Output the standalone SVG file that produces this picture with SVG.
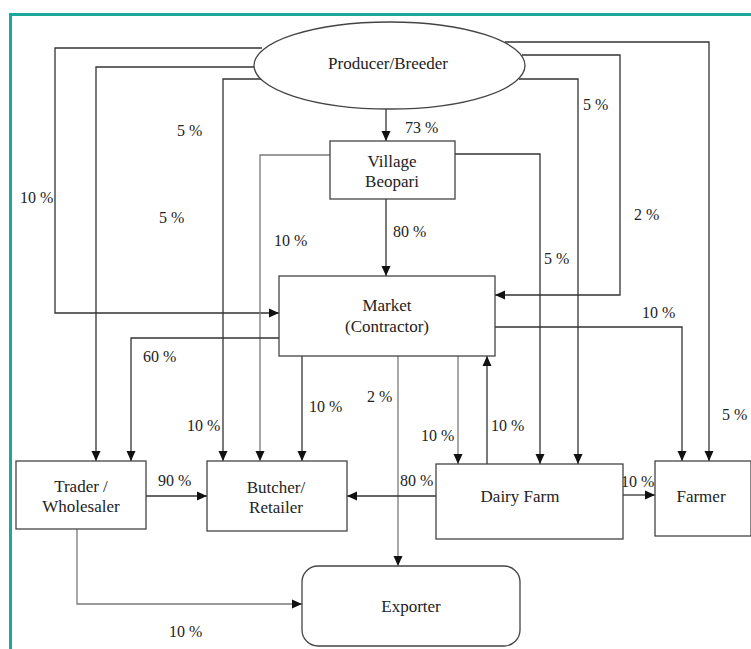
<svg xmlns="http://www.w3.org/2000/svg" width="751" height="649" viewBox="0 0 751 649">
<style>
.frame{fill:none;stroke:#1aa99a;stroke-width:3}
.node{fill:#fff;stroke:#444;stroke-width:1.3}
.c{fill:none;stroke:#333;stroke-width:1.3}
.g{fill:none;stroke:#7a7a7a;stroke-width:1.3}
.t{font-size:17px;text-anchor:middle;fill:#222}
.l{font-size:16px;fill:#222}
</style>
<defs>
<marker id="ah" viewBox="0 0 10 10" refX="10" refY="5" markerWidth="10" markerHeight="10" markerUnits="userSpaceOnUse" orient="auto">
<path d="M0,0.5 L10,5 L0,9.5 Z" fill="#111"/>
</marker>
</defs>
<rect width="751" height="649" fill="#fff"/>
<path class="frame" d="M10.5,649 V14.5 H751"/>
<g id="connectors">
<path class="c" d="M262,48 H55 V313 H279" marker-end="url(#ah)"/>
<path class="c" d="M254,67 H96 V461" marker-end="url(#ah)"/>
<path class="c" d="M262,79 H223 V461" marker-end="url(#ah)"/>
<path class="c" d="M505,42 H709 V461" marker-end="url(#ah)"/>
<path class="c" d="M522,55 H620 V295 H495" marker-end="url(#ah)"/>
<path class="c" d="M519,79 H578 V464" marker-end="url(#ah)"/>
<path class="c" d="M386,109 V141" marker-end="url(#ah)"/>
<path class="c" d="M386,199 V276" marker-end="url(#ah)"/>
<path class="g" d="M330,155 H260 V461" marker-end="url(#ah)"/>
<path class="c" d="M455,154 H540 V464" marker-end="url(#ah)"/>
<path class="c" d="M279,338 H131 V461" marker-end="url(#ah)"/>
<path class="c" d="M302,356 V461" marker-end="url(#ah)"/>
<path class="c" d="M495,327 H682 V461" marker-end="url(#ah)"/>
<path class="g" d="M398,356 V566" marker-end="url(#ah)"/>
<path class="g" d="M458,356 V464" marker-end="url(#ah)"/>
<path class="c" d="M487,464 V356" marker-end="url(#ah)"/>
<path class="c" d="M146,496 H207" marker-end="url(#ah)"/>
<path class="c" d="M436,496 H347" marker-end="url(#ah)"/>
<path class="c" d="M623,495 H655" marker-end="url(#ah)"/>
<path class="g" d="M77,529 V604 H302" marker-end="url(#ah)"/>
</g>
<g id="labels" class="l" font-family="'Liberation Serif', 'DejaVu Serif', 'Times New Roman', serif">
<text x="20" y="203">10 %</text>
<text x="177" y="136">5 %</text>
<text x="159" y="223">5 %</text>
<text x="274" y="246">10 %</text>
<text x="405" y="133">73 %</text>
<text x="393" y="237">80 %</text>
<text x="583" y="110">5 %</text>
<text x="634" y="220">2 %</text>
<text x="544" y="264">5 %</text>
<text x="642" y="318">10 %</text>
<text x="143" y="362">60 %</text>
<text x="309" y="412">10 %</text>
<text x="367" y="402">2 %</text>
<text x="187" y="431">10 %</text>
<text x="421" y="441">10 %</text>
<text x="491" y="431">10 %</text>
<text x="722" y="420">5 %</text>
<text x="158" y="486">90 %</text>
<text x="400" y="486">80 %</text>
<text x="621" y="487">10 %</text>
<text x="169" y="637">10 %</text>
</g>
<g id="nodes" font-family="'Liberation Serif', 'DejaVu Serif', 'Times New Roman', serif">
<g id="producer">
<ellipse class="node" cx="389.5" cy="65.5" rx="135.5" ry="43.5"/>
<text class="t" x="388" y="69">Producer/Breeder</text>
</g>
<g id="village">
<rect class="node" x="330" y="141" width="125" height="58"/>
<text class="t" x="392" y="167">Village</text>
<text class="t" x="392" y="187">Beopari</text>
</g>
<g id="market">
<rect class="node" x="279" y="276" width="216" height="80"/>
<text class="t" x="387" y="311">Market</text>
<text class="t" x="387" y="332">(Contractor)</text>
</g>
<g id="trader">
<rect class="node" x="16" y="461" width="130" height="68"/>
<text class="t" x="81" y="492">Trader /</text>
<text class="t" x="81" y="512">Wholesaler</text>
</g>
<g id="butcher">
<rect class="node" x="207" y="461" width="140" height="70"/>
<text class="t" x="276" y="493">Butcher/</text>
<text class="t" x="276" y="513">Retailer</text>
</g>
<g id="dairy">
<rect class="node" x="436" y="464" width="187" height="75"/>
<text class="t" x="520" y="502">Dairy Farm</text>
</g>
<g id="farmer">
<rect class="node" x="655" y="461" width="96" height="75"/>
<text class="t" x="701" y="502">Farmer</text>
</g>
<g id="exporter">
<rect class="node" x="302" y="566" width="218" height="80" rx="16"/>
<text class="t" x="411" y="612">Exporter</text>
</g>
</g>
</svg>
